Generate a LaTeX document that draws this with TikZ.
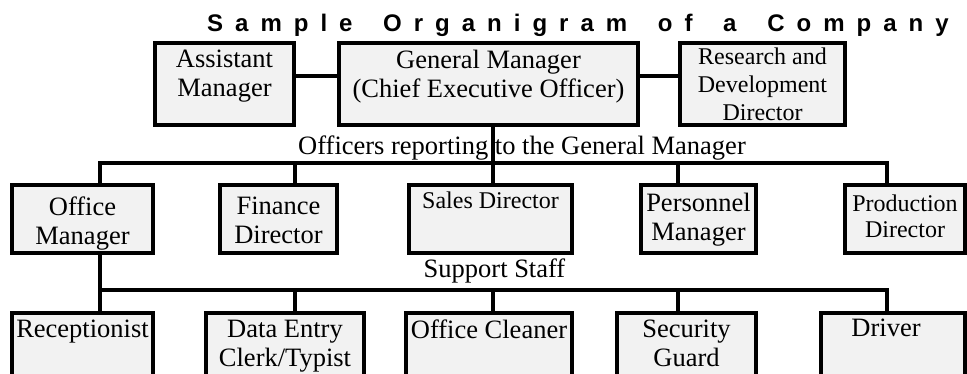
\documentclass[tikz,border=0pt]{standalone}
\usepackage{fontspec}
\setmainfont{Liberation Serif}
\newfontfamily\headfont{Liberation Sans}[LetterSpace=50]
\usepackage{tikz}
\usetikzlibrary{positioning}
\definecolor{boxfill}{RGB}{242,242,242}
\newcommand\gap{\hspace{12pt} }

\begin{document}
\begin{tikzpicture}[
  x=1pt, y=-1pt,
  box/.style={draw, line width=4pt, fill=boxfill, inner sep=0pt, outer sep=0pt},
  txt/.style={inner sep=0pt, align=center, font=\fontsize{26.5}{29}\selectfont},
  sm/.style={inner sep=0pt, align=center, font=\fontsize{24}{28}\selectfont},
  wire/.style={line width=4pt},
]
\clip (0,0) rectangle (967,374);

\node[anchor=base west, inner sep=0pt, font=\headfont\bfseries\fontsize{24}{28}\selectfont]
  (title) at (207,32) {Sample\gap Organigram\gap of\gap a\gap Company};

% top row
\node[box, minimum width=139pt, minimum height=82pt] (am) at (224.5,84.5) {};
\node[box, minimum width=299pt, minimum height=82pt] (gm) at (488.5,84.5) {};
\node[box, minimum width=165pt, minimum height=82pt] (rd) at (762.5,84.5) {};
\node[txt, below=6pt of am.north] (am-t) {Assistant\\Manager};
\node[txt, below=6pt of gm.north] (gm-t) {General Manager\\(Chief Executive Officer)};
\node[sm,  below=4pt of rd.north] (rd-t) {Research and\\Development\\Director};

% officers
\node[box, minimum width=141pt, minimum height=68pt] (om) at (82.5,219) {};
\node[box, minimum width=117pt, minimum height=68pt] (fd) at (278.5,219) {};
\node[box, minimum width=163pt, minimum height=68pt] (sd) at (490.5,219) {};
\node[box, minimum width=115pt, minimum height=68pt] (pm) at (698.5,219) {};
\node[box, minimum width=120pt, minimum height=68pt] (pd) at (905,219) {};
\node[txt, below=12pt of om.north] (om-t) {Office\\Manager};
\node[txt, below=12pt of fd.north] (fd-t) {Finance\\Director};
\node[sm,  below=7pt of sd.north]  (sd-t) {Sales Director};
\node[txt, below=8pt of pm.north]  (pm-t) {Personnel\\Manager};
\node[sm,  below=10pt of pd.north, font=\fontsize{24}{26}\selectfont] (pd-t) {Production\\Director};

% support staff
\node[box, minimum width=141pt, minimum height=65pt] (rc) at (82.5,345.5) {};
\node[box, minimum width=158pt, minimum height=65pt] (de) at (285,345.5) {};
\node[box, minimum width=166pt, minimum height=65pt] (oc) at (489,345.5) {};
\node[box, minimum width=139pt, minimum height=65pt] (sg) at (686.5,345.5) {};
\node[box, minimum width=144pt, minimum height=65pt] (dr) at (893,345.5) {};
\node[txt, below=7pt of rc.north] (rc-t) {Receptionist};
\node[txt, below=7pt of de.north] (de-t) {Data Entry\\Clerk/Typist};
\node[txt, below=7pt of oc.north] (oc-t) {Office Cleaner};
\node[txt, below=7pt of sg.north] (sg-t) {Security\\Guard};
\node[txt, below=6pt of dr.north, xshift=-7pt] (dr-t) {Driver};

\node[txt, anchor=base] (lvl1) at (522,155) {Officers reporting to the General Manager};
\node[txt, anchor=base] (lvl2) at (494.5,278) {Support Staff};

% bus junctions
\coordinate (t1) at (100,163.5); \coordinate (s1) at (100,290);
\coordinate (t2) at (295,163.5); \coordinate (s2) at (295,290);
\coordinate (t3) at (493,163.5); \coordinate (s3) at (493,290);
\coordinate (t4) at (678,163.5); \coordinate (s4) at (678,290);
\coordinate (t5) at (887,163.5); \coordinate (s5) at (887,290);

\draw[wire] ([yshift=8.5pt]am.east) -- ([yshift=8.5pt]gm.west);
\draw[wire] ([yshift=8.5pt]gm.east) -- ([yshift=8.5pt]rd.west);
\draw[wire] (gm.south -| t3) -- (t3);
\draw[wire] (t1 |- om.north) -- (t1) -- (t5) -- (t5 |- pd.north);
\draw[wire] (t2) -- (t2 |- fd.north);
\draw[wire] (t3) -- (t3 |- sd.north);
\draw[wire] (t4) -- (t4 |- pm.north);

\draw[wire] (om.south -| s1) -- (s1 |- rc.north);
\draw[wire] (s1) -- (s5) -- (s5 |- dr.north);
\draw[wire] (s2) -- (s2 |- de.north);
\draw[wire] (s3) -- (s3 |- oc.north);
\draw[wire] (s4) -- (s4 |- sg.north);
\end{tikzpicture}
\end{document}
